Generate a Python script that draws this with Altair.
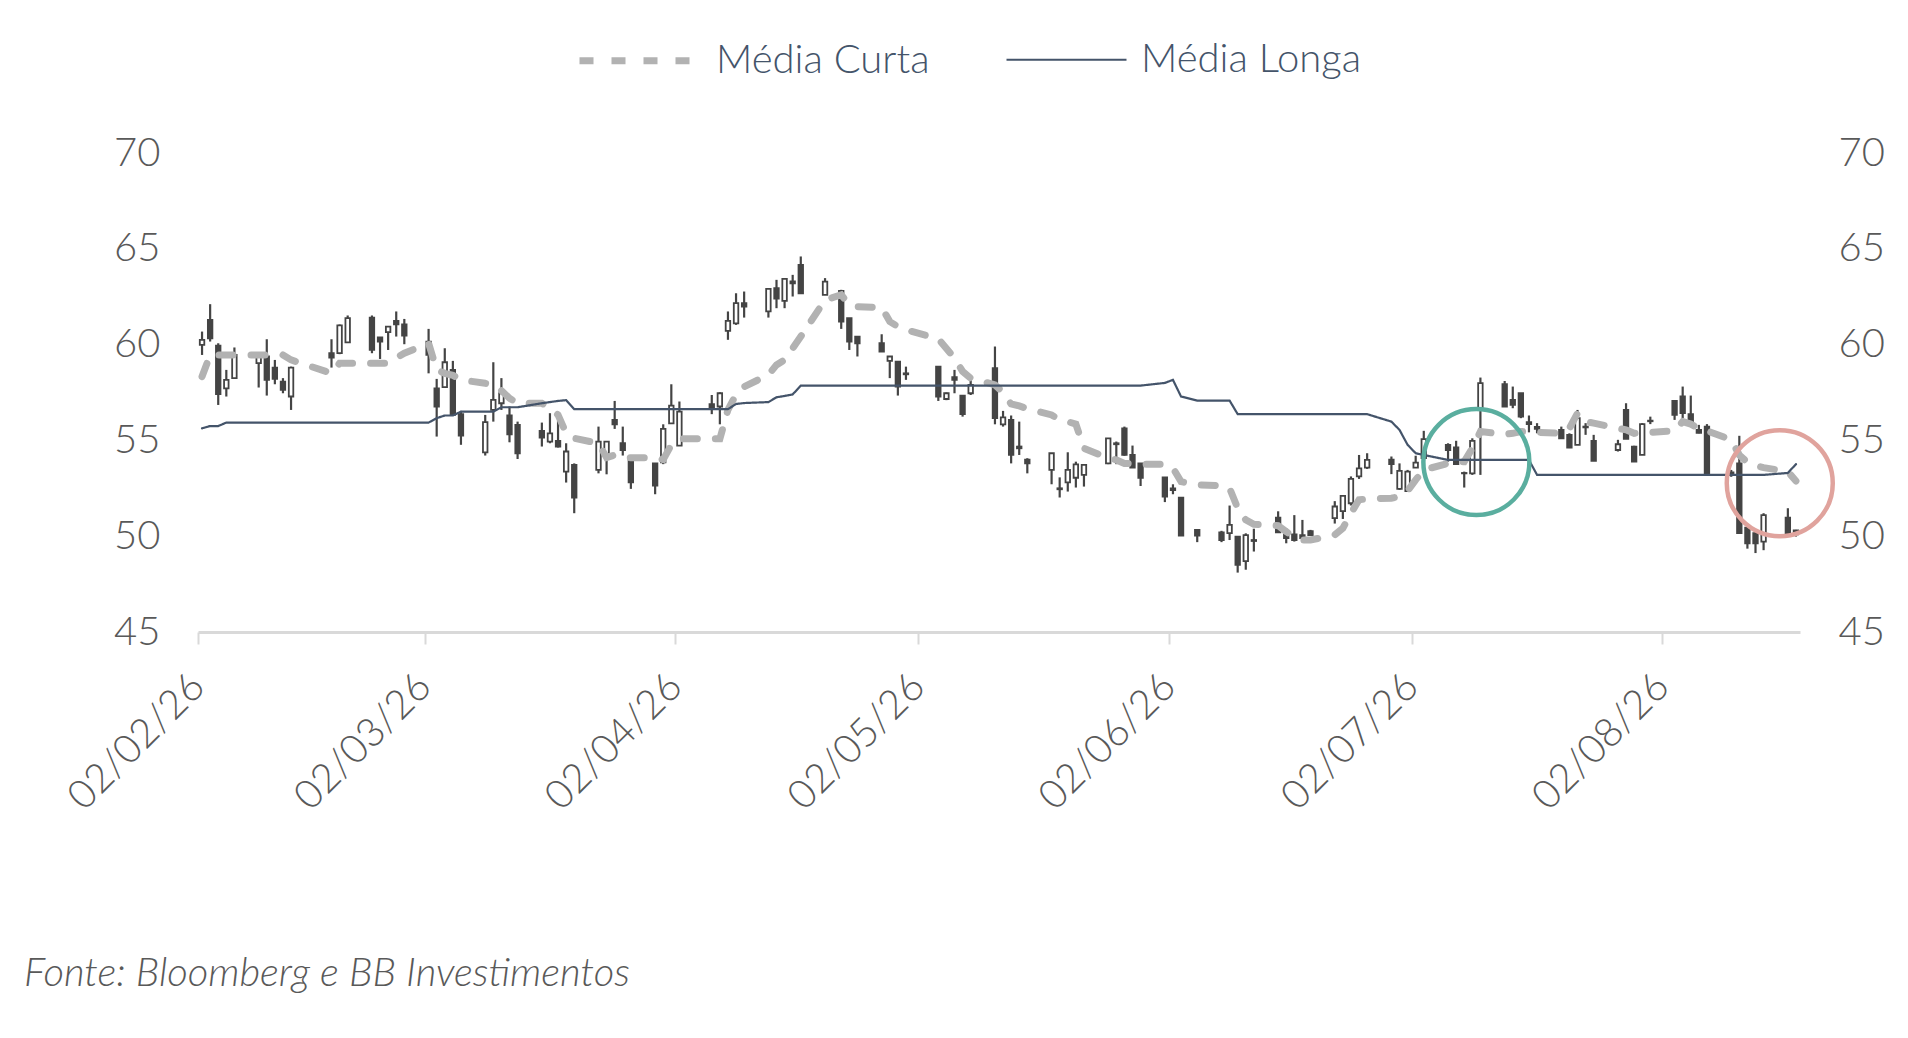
import altair as alt
import pandas as pd

# ---- pregões (MM-DD, 2026) ----
datas = [
    "02-02", "02-03", "02-04", "02-05", "02-06", "02-09", "02-10", "02-11", "02-12", "02-13",
    "02-18", "02-19", "02-20", "02-23", "02-24", "02-25", "02-26", "02-27",
    "03-02", "03-03", "03-04", "03-05", "03-06", "03-09", "03-10", "03-11", "03-12", "03-13",
    "03-16", "03-17", "03-18", "03-19", "03-20", "03-23", "03-24", "03-25", "03-26", "03-27",
    "03-30", "03-31",
    "04-01", "04-02", "04-06", "04-07", "04-08", "04-09", "04-10", "04-13", "04-14", "04-15",
    "04-16", "04-17", "04-20", "04-22", "04-23", "04-24", "04-27", "04-28", "04-29", "04-30",
    "05-04", "05-05", "05-06", "05-07", "05-08", "05-11", "05-12", "05-13", "05-14", "05-15",
    "05-18", "05-19", "05-20", "05-21", "05-22", "05-25", "05-26", "05-27", "05-28", "05-29",
    "06-01", "06-02", "06-03", "06-05", "06-08", "06-09", "06-10", "06-11", "06-12", "06-15",
    "06-16", "06-17", "06-18", "06-19", "06-22", "06-23", "06-24", "06-25", "06-26", "06-29",
    "06-30",
    "07-01", "07-02", "07-03", "07-06", "07-07", "07-08", "07-09", "07-10", "07-13", "07-14",
    "07-15", "07-16", "07-17", "07-20", "07-21", "07-22", "07-23", "07-24", "07-27", "07-28",
    "07-29", "07-30", "07-31",
    "08-03", "08-04", "08-05", "08-06", "08-07", "08-10", "08-11", "08-12", "08-13", "08-14",
    "08-17", "08-18",
]

abertura = [
    59.99, 61.29, 59.95, 57.72, 58.25, 59.03, 59.38, 58.80, 58.07, 57.29, 59.55, 59.55, 60.12, 61.41, 60.37, 60.65, 61.24, 61.06,
    60.16, 57.72, 57.78, 58.68, 56.37, 54.38, 56.59, 56.94, 56.30, 55.81, 55.50, 54.94, 54.98, 53.37, 53.72, 53.46, 54.16, 56.07, 54.85, 54.07, 53.80, 53.86,
    55.89, 54.73, 56.89, 56.77, 60.72, 61.11, 62.16, 61.73, 62.94, 62.28, 63.30, 64.16, 62.60, 62.80, 61.38, 60.42, 60.07, 59.15, 59.11, 58.50,
    58.85, 57.16, 58.30, 57.34, 57.46, 58.77, 55.84, 56.07, 54.68, 54.00, 53.46, 52.50, 52.81, 53.05, 53.20, 53.80, 54.85, 55.63, 54.24, 53.80,
    53.07, 52.50, 52.01, 50.33, 50.20, 50.16, 49.98, 48.70, 49.75, 50.97, 50.10, 50.10, 50.06, 50.27, 50.94, 51.31, 51.72, 53.12, 53.58, 54.00, 52.47,
    52.36, 53.58, 54.07, 54.76, 54.63, 53.30, 53.28, 56.59, 57.93, 57.11, 57.46, 55.95, 55.70, 55.55, 55.29, 54.77, 55.72, 54.98, 54.50, 56.59, 54.68, 54.24, 56.03,
    57.06, 57.29, 56.37, 55.55, 55.72, 53.33, 53.80, 50.45, 50.16, 49.72, 50.97, 50.30,
]

maxima = [
    60.68, 62.11, 60.07, 58.68, 59.85, 59.46, 60.28, 59.20, 58.25, 58.85, 60.28, 61.05, 61.52, 61.52, 60.37, 60.94, 61.73, 61.34,
    60.82, 58.21, 59.81, 59.15, 56.54, 56.33, 59.08, 58.25, 56.77, 55.98, 55.93, 56.42, 56.02, 54.85, 53.80, 55.72, 54.94, 57.06, 55.72, 54.07, 53.80, 55.84,
    57.93, 57.03, 57.37, 57.51, 61.73, 62.68, 62.77, 62.91, 63.38, 63.43, 63.64, 64.60, 63.47, 62.86, 61.38, 60.42, 60.54, 59.38, 59.11, 58.85,
    58.85, 57.50, 58.68, 57.34, 58.33, 59.90, 56.54, 56.30, 55.98, 54.07, 54.33, 53.07, 54.38, 53.89, 53.76, 55.11, 54.94, 55.72, 54.73, 53.80,
    53.07, 52.71, 52.01, 50.33, 50.28, 51.60, 49.98, 50.15, 50.39, 51.30, 50.41, 51.10, 50.85, 50.33, 51.83, 52.15, 53.12, 54.24, 54.33, 54.16, 53.80,
    53.46, 54.20, 55.50, 54.85, 54.98, 53.37, 55.11, 58.28, 58.10, 57.81, 57.46, 56.30, 55.90, 55.72, 55.37, 56.59, 55.90, 55.29, 55.03, 56.94, 54.72, 55.90, 56.24,
    57.06, 57.81, 57.34, 55.81, 55.85, 53.46, 55.24, 50.45, 50.33, 51.20, 51.46, 50.33,
]

minima = [
    59.46, 60.16, 56.85, 57.29, 58.25, 57.76, 57.34, 57.93, 57.46, 56.59, 58.80, 59.50, 60.12, 59.55, 59.25, 59.72, 60.42, 60.02,
    58.50, 55.20, 57.78, 56.33, 54.77, 54.21, 55.98, 56.59, 54.90, 54.03, 54.68, 54.85, 54.63, 52.80, 51.20, 53.28, 53.23, 55.60, 54.21, 52.47, 52.19, 53.76,
    55.89, 54.73, 56.37, 55.84, 60.25, 61.03, 61.41, 61.41, 61.90, 61.90, 62.51, 62.68, 62.60, 60.82, 59.72, 59.38, 59.64, 58.25, 57.34, 58.16,
    57.06, 57.10, 57.46, 56.24, 57.37, 55.84, 55.72, 53.80, 54.24, 53.28, 52.71, 52.02, 52.33, 52.54, 52.59, 53.76, 53.76, 54.20, 53.58, 52.62,
    51.78, 52.19, 50.03, 49.69, 49.69, 49.80, 48.10, 48.25, 49.20, 50.20, 49.63, 49.72, 49.90, 50.03, 50.66, 50.90, 51.60, 52.99, 53.51, 53.24, 52.42,
    52.36, 53.58, 53.98, 53.89, 53.76, 52.54, 53.20, 53.20, 56.77, 56.68, 56.16, 55.42, 55.37, 55.08, 54.60, 54.77, 55.29, 53.93, 54.42, 55.08, 53.89, 54.24, 55.85,
    56.07, 56.16, 55.85, 55.37, 53.23, 53.10, 50.16, 49.35, 49.12, 49.27, 50.16, 49.98,
]

fechamento = [
    60.25, 60.33, 57.41, 58.16, 59.46, 59.38, 58.16, 58.21, 57.64, 58.80, 59.32, 61.00, 61.38, 59.72, 60.16, 60.94, 61.06, 60.47,
    59.46, 56.77, 59.08, 56.33, 55.25, 55.95, 57.11, 57.46, 55.32, 54.33, 55.15, 55.37, 54.68, 54.42, 52.01, 54.94, 54.94, 55.84, 54.50, 52.81, 52.64, 55.60,
    56.82, 56.50, 56.68, 57.46, 61.24, 62.16, 61.98, 62.91, 62.40, 63.43, 63.20, 62.68, 63.29, 61.20, 60.16, 60.07, 59.64, 59.38, 57.81, 58.45,
    57.29, 57.46, 58.16, 56.37, 57.90, 56.16, 56.20, 54.25, 54.59, 53.80, 54.33, 52.45, 53.46, 53.75, 53.72, 55.11, 54.80, 54.24, 53.58, 53.05,
    52.07, 52.40, 50.03, 50.03, 49.80, 50.59, 48.50, 50.06, 49.80, 50.20, 49.90, 49.80, 49.90, 50.06, 51.55, 52.10, 52.99, 53.54, 53.98, 53.76, 53.41,
    53.37, 53.84, 55.07, 54.50, 53.76, 53.28, 54.98, 57.99, 56.77, 56.85, 56.24, 55.85, 55.60, 55.11, 54.63, 56.16, 55.68, 53.93, 54.80, 55.08, 53.89, 55.85, 56.00,
    56.33, 56.42, 55.98, 55.40, 53.23, 53.20, 50.16, 49.63, 49.63, 51.10, 50.16, 50.10,
]

media_curta = [
    58.33, 59.46, 59.46, 59.46, 59.46, 59.46, 59.46, 59.46, 59.46, 59.20, 58.50, 59.03, 59.03, 59.03, 59.03, 59.03, 59.30, 59.55,
    60.07, 58.68, 58.50, 58.40, 58.16, 57.98, 57.90, 57.60, 57.20, 56.94, 56.94, 56.68, 56.33, 55.38, 55.11, 54.85, 54.10, 54.24, 54.10, 54.10, 54.10, 54.00,
    54.77, 55.08, 55.08, 55.08, 56.60, 57.40, 57.80, 58.42, 58.94, 59.20, 59.81, 60.42, 62.33, 62.60, 62.07, 61.98, 61.94, 61.20, 60.94, 60.77,
    60.30, 59.80, 59.30, 58.60, 58.24, 57.90, 57.50, 56.90, 56.80, 56.65, 56.33, 56.07, 55.98, 55.85, 54.59, 54.07, 53.98, 53.80, 53.80, 53.76,
    53.76, 53.55, 52.85, 52.68, 52.64, 52.50, 51.46, 50.85, 50.62, 50.55, 50.24, 49.93, 49.80, 49.80, 50.07, 50.42, 51.20, 51.90, 51.95, 51.98, 52.07,
    52.37, 52.94, 53.46, 53.80, 53.89, 53.89, 54.59, 55.46, 55.32, 55.37, 55.46, 55.46, 55.42, 55.37, 55.63, 56.42, 55.98, 55.90, 55.63, 55.55, 55.37, 55.42, 55.42,
    55.50, 55.98, 55.85, 55.63, 55.50, 55.03, 54.24, 53.85, 53.68, 53.58, 53.37, 52.88,
]

media_longa = [
    55.63, 55.75, 55.75, 55.93, 55.93, 55.93, 55.93, 55.93, 55.93, 55.93, 55.93, 55.93, 55.93, 55.93, 55.93, 55.93, 55.93, 55.93,
    55.93, 56.16, 56.30, 56.30, 56.50, 56.50, 56.50, 56.73, 56.73, 56.73, 56.94, 57.00, 57.06, 57.10, 56.63, 56.63, 56.63, 56.63, 56.63, 56.63, 56.63, 56.63,
    56.63, 56.63, 56.63, 56.63, 56.63, 56.90, 56.95, 57.00, 57.25, 57.32, 57.40, 57.86, 57.86, 57.86, 57.86, 57.86, 57.86, 57.86, 57.86, 57.86,
    57.86, 57.86, 57.86, 57.86, 57.86, 57.86, 57.86, 57.86, 57.86, 57.86, 57.86, 57.86, 57.86, 57.86, 57.86, 57.86, 57.86, 57.86, 57.86, 57.86,
    58.00, 58.16, 57.29, 57.08, 57.08, 57.08, 56.37, 56.37, 56.37, 56.37, 56.37, 56.37, 56.37, 56.37, 56.37, 56.37, 56.37, 56.37, 56.37, 55.98, 55.55,
    54.77, 54.33, 54.24, 53.98, 53.98, 53.98, 53.98, 53.98, 53.98, 53.98, 53.98, 53.98, 53.20, 53.20, 53.20, 53.20, 53.20, 53.20, 53.20, 53.20, 53.20, 53.20, 53.20,
    53.20, 53.20, 53.20, 53.20, 53.20, 53.20, 53.20, 53.20, 53.20, 53.20, 53.30, 53.76,
]

# destaques (círculos)
destaque_datas = ["2026-07-10T00:00:00", "2026-08-16T12:00:00"]
destaque_valores = [53.87, 52.77]
destaque_cores = ["#5aae9f", "#e0a39d"]

series = ["Média Curta", "Média Longa"]
y_ticks = [45, 50, 55, 60, 65, 70]
fonte = "Fonte: Bloomberg e BB Investimentos"

# ---------------- tables ----------------
ts = ["2026-%sT12:00:00" % d for d in datas]
velas = pd.DataFrame({
    "data": ts, "abertura": abertura, "maxima": maxima,
    "minima": minima, "fechamento": fechamento,
})
velas["sentido"] = ["alta" if c >= o else "baixa" for o, c in zip(abertura, fechamento)]

medias = pd.concat([
    pd.DataFrame({"data": ts, "serie": series[0], "valor": media_curta}),
    pd.DataFrame({"data": ts, "serie": series[1], "valor": media_longa}),
], ignore_index=True)

circ = pd.DataFrame({"data": destaque_datas, "valor": destaque_valores, "cor": destaque_cores})

FONT = "Lato"
DARK = "#444444"

x_scale = alt.Scale(domain=[alt.DateTime(year=2026, month=2, date=2),
                            alt.DateTime(year=2026, month=8, date=19)], padding=0)
y_scale = alt.Scale(domain=[45, 70], nice=False, zero=False)

x_axis = alt.Axis(
    values=[alt.DateTime(year=2026, month=m, date=2) for m in range(2, 9)],
    format="%d/%m/%y", labelAngle=-45, labelAlign="right", labelBaseline="middle",
    labelFont=FONT, labelFontSize=40, labelFontWeight=300, labelColor="#595959",
    labelPadding=36, labelFlush=False, labelOverlap=False,
    domainColor="#d9d9d9", domainWidth=3, tickColor="#d9d9d9", tickWidth=2, tickSize=12,
    grid=False, title=None,
)


def y_axis(orient):
    return alt.Axis(orient=orient, values=y_ticks, domain=False, ticks=False, grid=False,
                    labelFont=FONT, labelFontSize=40, labelFontWeight=300,
                    labelColor="#595959", labelPadding=38, title=None)


X = alt.X("data:T", scale=x_scale, axis=x_axis)

pavios = alt.Chart(velas).mark_rule(color=DARK, strokeWidth=2.2).encode(
    x=X,
    y=alt.Y("minima:Q", scale=y_scale, axis=y_axis("left")),
    y2="maxima:Q",
)

corpos = alt.Chart(velas).mark_bar(size=4.5, stroke=DARK, strokeWidth=1.8).encode(
    x=X,
    y=alt.Y("abertura:Q", scale=y_scale),
    y2="fechamento:Q",
    fill=alt.Fill("sentido:N", scale=alt.Scale(domain=["alta", "baixa"], range=["#ffffff", DARK]),
                  legend=None),
)

leg = alt.Legend(
    orient="none", legendX=378, legendY=-156, direction="horizontal", title=None,
    labelFont=FONT, labelFontSize=40, labelFontWeight=300, labelColor="#44546a",
    labelLimit=0, symbolType="stroke", symbolSize=14400, labelOffset=13,
    columnPadding=72, padding=0,
)

linhas = alt.Chart(medias).mark_line(strokeCap="round").encode(
    x=X,
    y=alt.Y("valor:Q", scale=y_scale),
    color=alt.Color("serie:N", scale=alt.Scale(domain=series, range=["#b2b2b2", "#44546a"]), legend=leg),
    strokeDash=alt.StrokeDash("serie:N", scale=alt.Scale(domain=series, range=[[14, 18], [1, 0]]), legend=leg),
    strokeWidth=alt.StrokeWidth("serie:N", scale=alt.Scale(domain=series, range=[7, 2.2]), legend=leg),
    detail="serie:N",
)

circulos = alt.Chart(circ).mark_point(shape="circle", filled=False, size=11236, strokeWidth=4.5,
                                      opacity=1).encode(
    x=X,
    y=alt.Y("valor:Q", scale=y_scale),
    stroke=alt.Stroke("cor:N", scale=None),
)

nota = alt.Chart(pd.DataFrame({"t": [fonte]})).mark_text(
    align="left", baseline="alphabetic", font=FONT, fontSize=40, fontStyle="italic",
    fontWeight=300, color="#595959",
).encode(x=alt.value(-174), y=alt.value(833), text="t:N")

principal = alt.layer(pavios, corpos, linhas, circulos, nota)

eixo_dir = alt.Chart(velas).mark_rule(opacity=0).encode(
    x=X,
    y=alt.Y("minima:Q", scale=y_scale, axis=y_axis("right")),
)

chart = alt.layer(principal, eixo_dir).resolve_scale(y="independent").properties(
    width=1602, height=479,
    background="white",
    autosize=alt.AutoSizeParams(type="none"),
    padding={"left": 190, "top": 145, "right": 100, "bottom": 390},
).configure_view(stroke=None)

chart.save("out.html", embed_options={"renderer": "svg", "actions": False})
